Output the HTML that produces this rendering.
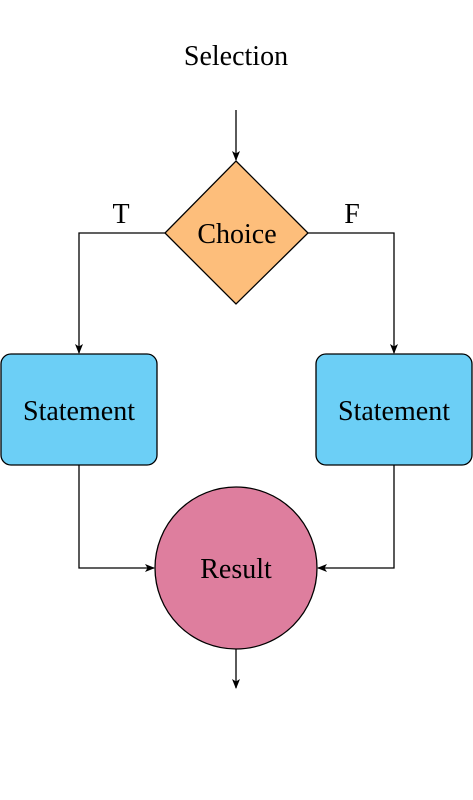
<!DOCTYPE html>
<html><head><meta charset="utf-8"><style>
html,body{margin:0;padding:0;background:#fff;}
svg{display:block;}
text{font-family:"Liberation Serif","DejaVu Serif",serif;font-size:28px;fill:#000;}
</style></head><body>
<svg width="473" height="800" viewBox="0 0 473 800" xmlns="http://www.w3.org/2000/svg">
<defs>
<marker id="a" markerWidth="10" markerHeight="8" refX="9" refY="4" orient="auto" markerUnits="userSpaceOnUse">
<path d="M0,0 L10,4 L0,8 L2.5,4 Z" fill="#000"/>
</marker>
</defs>
<text x="236" y="65" text-anchor="middle">Selection</text>
<g stroke="#000" stroke-width="1.3" fill="none">
<line x1="236" y1="110" x2="236" y2="160" marker-end="url(#a)"/>
<polyline points="165,233 79,233 79,353" marker-end="url(#a)"/>
<polyline points="308,233 394,233 394,353" marker-end="url(#a)"/>
<polyline points="79,465 79,568 154,568" marker-end="url(#a)"/>
<polyline points="394,465 394,568 318,568" marker-end="url(#a)"/>
<line x1="236" y1="649" x2="236" y2="688" marker-end="url(#a)"/>
</g>
<polygon points="236,161 308,233 236,304 165,233" fill="#FDBE7B" stroke="#000" stroke-width="1.3"/>
<text x="237" y="243" text-anchor="middle">Choice</text>
<text x="121" y="223" text-anchor="middle">T</text>
<text x="352" y="223" text-anchor="middle">F</text>
<rect x="1" y="354" width="156" height="111" rx="10" fill="#6CCFF6" stroke="#000" stroke-width="1.3"/>
<rect x="316" y="354" width="156" height="111" rx="10" fill="#6CCFF6" stroke="#000" stroke-width="1.3"/>
<text x="79" y="420" text-anchor="middle">Statement</text>
<text x="394" y="420" text-anchor="middle">Statement</text>
<circle cx="236" cy="568" r="81" fill="#DE7E9E" stroke="#000" stroke-width="1.3"/>
<text x="236" y="578" text-anchor="middle">Result</text>
</svg>
</body></html>
